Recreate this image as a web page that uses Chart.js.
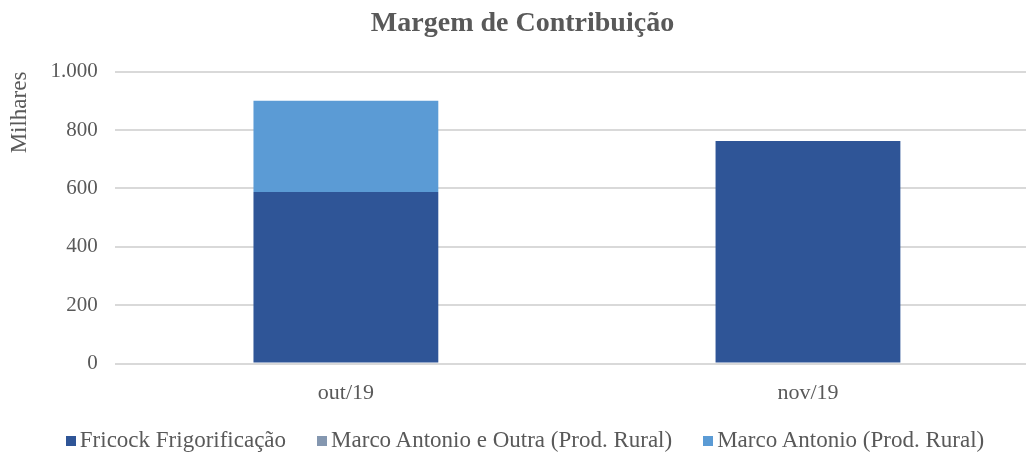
<!DOCTYPE html>
<html>
<head>
<meta charset="utf-8">
<script src="https://cdn.jsdelivr.net/npm/chart.js@4"></script>
<style>
  html, body { margin: 0; padding: 0; background: #fff; overflow: hidden; }
  #wrap { position: relative; width: 1026px; height: 457px; overflow: hidden; }
  #box { width: 1040px; height: 457px; }
  #legend {
    position: absolute; left: 0; top: 427px; width: 1050px;
    display: flex; justify-content: center; gap: 31px;
    font-family: 'Liberation Serif', 'DejaVu Serif', serif; font-size: 23px; color: #595959;
    line-height: 26px;
  }
  #legend span.item { display: flex; align-items: center; white-space: nowrap; }
  #legend span.sw { display: inline-block; width: 10px; height: 10px; margin-right: 4px; margin-top: 2px; }
</style>
</head>
<body>
<div id="wrap">
  <div id="box"><canvas id="myChart"></canvas></div>
  <div id="legend"></div>
</div>
<script>
const months = ['out/19', 'nov/19'];
const fricock = [588, 762];
const marcoOutra = [0, 0];
const marcoRural = [312, 0];
const yTicks = [0, 200, 400, 600, 800, 1000];

const grey = '#595959';
const serif = "'Liberation Serif', 'DejaVu Serif', serif";

function fmt(v) {
    return String(v).replace(/\B(?=(\d{3})+(?!\d))/g, '.');
}

const ctx = document.getElementById('myChart').getContext('2d');
const chart = new Chart(ctx, {
    type: 'bar',
    data: {
        labels: months,
        datasets: [{
            label: 'Fricock Frigorificação',
            data: fricock,
            backgroundColor: '#2F5597'
        }, {
            label: 'Marco Antonio e Outra (Prod. Rural)',
            data: marcoOutra,
            backgroundColor: '#8497B0'
        }, {
            label: 'Marco Antonio (Prod. Rural)',
            data: marcoRural,
            backgroundColor: '#5B9BD5'
        }]
    },
    options: {
        responsive: true,
        maintainAspectRatio: false,
        animation: false,
        layout: { padding: { left: 6, right: 1, top: 0, bottom: 35 } },
        datasets: { bar: { categoryPercentage: 1, barPercentage: 0.4 } },
        plugins: {
            title: {
                display: true,
                text: 'Margem de Contribuição',
                color: grey,
                font: { family: serif, size: 28, weight: 'bold' },
                padding: { top: 7, bottom: 31 }
            },
            legend: { display: false },
            tooltip: { enabled: false }
        },
        scales: {
            x: {
                stacked: true,
                grid: { display: false, drawTicks: false },
                border: { display: false },
                ticks: { color: grey, font: { family: serif, size: 22 }, padding: 16 }
            },
            y: {
                stacked: true,
                min: 0,
                max: 1000,
                afterBuildTicks: axis => { axis.ticks = yTicks.map(v => ({ value: v })); },
                grid: { color: '#d9d9d9', lineWidth: 2, drawTicks: false },
                border: { display: false },
                ticks: { color: grey, font: { family: serif, size: 21 }, padding: 17, callback: v => fmt(v) },
                title: {
                    display: true,
                    text: 'Milhares',
                    align: 'end',
                    color: grey,
                    font: { family: serif, size: 23 },
                    padding: { top: 0, bottom: 0 }
                }
            }
        }
    }
});

// legend in html, built from the chart's datasets
const legendEl = document.getElementById('legend');
chart.data.datasets.forEach(ds => {
    const item = document.createElement('span');
    item.className = 'item';
    const sw = document.createElement('span');
    sw.className = 'sw';
    sw.style.background = ds.backgroundColor;
    item.appendChild(sw);
    item.appendChild(document.createTextNode(ds.label));
    legendEl.appendChild(item);
});
</script>
</body>
</html>
